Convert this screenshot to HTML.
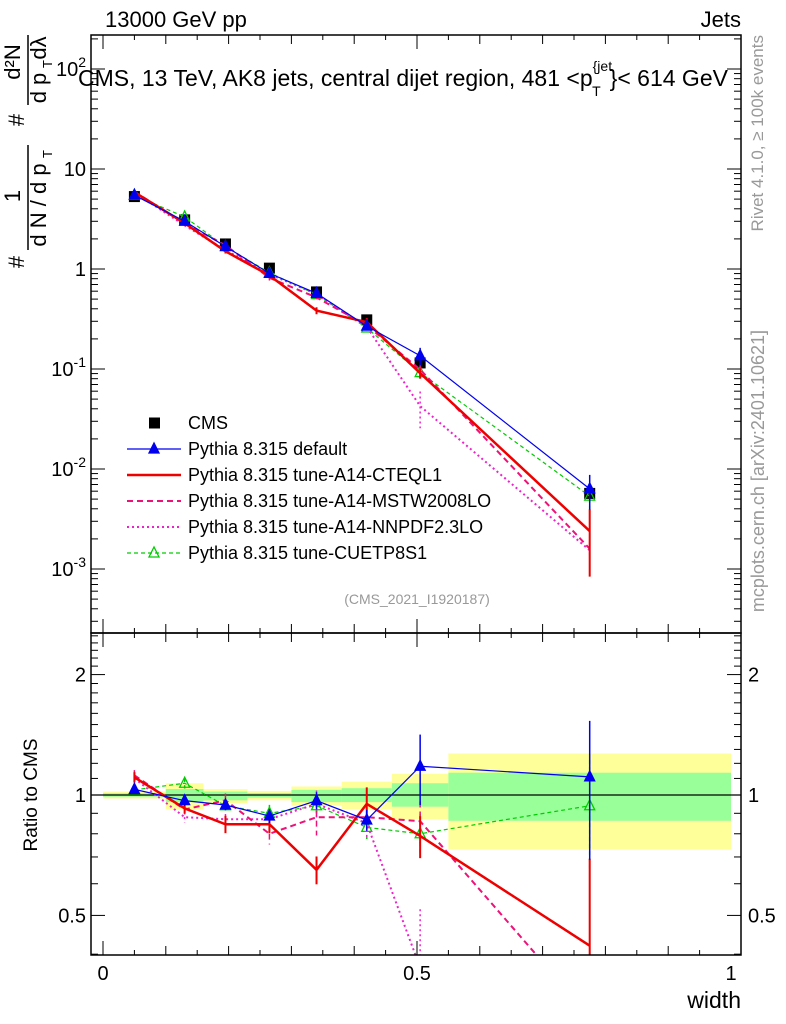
<!DOCTYPE html>
<html><head><meta charset="utf-8"><style>
html,body{margin:0;padding:0;background:#fff;width:786px;height:1024px;overflow:hidden}
svg{display:block;font-family:"Liberation Sans",sans-serif}
</style></head><body>
<svg id="c" width="786" height="1024" viewBox="0 0 786 1024">
<defs>
<clipPath id="cm"><rect x="91" y="35" width="650" height="598"/></clipPath>
<clipPath id="cr"><rect x="91" y="633" width="650" height="322"/></clipPath>
</defs>
</svg>
<script>
// ---- data ----
const binEdges=[0,0.1,0.16,0.23,0.3,0.38,0.46,0.55,1.0];
const xCenters=[0.05,0.13,0.195,0.265,0.34,0.42,0.505,0.775];
const cmsValues=[5.3,3.1,1.78,1.02,0.59,0.31,0.115,0.0057];
const bandYellowHi=[1.02,1.07,1.035,1.024,1.05,1.08,1.13,1.27];
const bandYellowLo=[0.98,0.92,0.955,0.97,0.94,0.92,0.87,0.73];
const bandGreenHi=[1.01,1.035,1.02,1.012,1.03,1.04,1.07,1.137];
const bandGreenLo=[0.99,0.96,0.97,0.985,0.96,0.96,0.935,0.862];
const ratioDefault=[1.033,0.968,0.944,0.886,0.968,0.866,1.18,1.11];
const errDefault=[0.02,0.03,0.03,0.04,0.05,0.06,0.2,0.38];
const ratioCTEQ=[1.107,0.926,0.845,0.845,0.65,0.95,0.79,0.42];
const errCTEQ=[0.03,0.03,0.05,0.05,0.08,0.1,0.12,0.65];
const ratioMSTW=[1.12,0.92,0.97,0.8,0.88,0.88,0.86,0.28];
const errMSTW=[0.03,0.03,0.04,0.06,0.1,0.08,0.12,0.2];
const ratioNNPDF=[1.1,0.88,0.87,0.87,0.95,0.85,0.37,0.27];
const errNNPDF=[0.03,0.03,0.03,0.04,0.08,0.08,0.4,0.2];
const ratioCUETP=[1.03,1.07,0.94,0.9,0.94,0.83,0.8,0.94];
const errCUETP=[0.02,0.03,0.04,0.05,0.06,0.08,0.12,0.3];
const mainTickLabels=["10^2","10","1","10^-1","10^-2","10^-3"];
const mainTickValues=[100,10,1,0.1,0.01,0.001];
const ratioTickValues=[2,1,0.5];
const xTickValues=[0,0.5,1];

// ---- axes ----
const X=v=>103+628*v;
const YM=v=>269-100*Math.log10(v);
const YR=r=>795-400*Math.log10(r);
const clampM=y=>Math.max(35,Math.min(633,y));
const clampR=y=>Math.max(633,Math.min(955,y));
const NS="http://www.w3.org/2000/svg";
const svg=document.getElementById('c');
function mk(tag,attrs,parent){const e=document.createElementNS(NS,tag);for(const k in attrs)e.setAttribute(k,attrs[k]);(parent||svg).appendChild(e);return e;}
function txt(s,attrs,parent){const e=mk('text',attrs,parent);e.textContent=s;return e;}

const gBand=mk('g',{'clip-path':'url(#cr)'});


for(let i=0;i<xCenters.length;i++){
  const x0=X(binEdges[i]),x1=X(binEdges[i+1]);
  const r1=mk('rect',{x:x0,y:YR(bandYellowHi[i]),width:x1-x0,height:YR(bandYellowLo[i])-YR(bandYellowHi[i]),fill:'#ffff99'},gBand);
  
  
  const r2=mk('rect',{x:x0,y:YR(bandGreenHi[i]),width:x1-x0,height:YR(bandGreenLo[i])-YR(bandGreenHi[i]),fill:'#99ff99'},gBand);
  
  
}
const one=mk('line',{x1:91,x2:741,y1:YR(1),y2:YR(1),stroke:'#000','stroke-width':1.2});



const series=[
 {name:'default',ratio:ratioDefault,err:errDefault,color:'#0000ee',w:1.2,dash:'',marker:'tri-fill'},
 {name:'cteql1',ratio:ratioCTEQ,err:errCTEQ,color:'#ee0000',w:2.5,dash:'',marker:'none'},
 {name:'mstw2008lo',ratio:ratioMSTW,err:errMSTW,color:'#ee1177',w:2,dash:'6,4',marker:'none'},
 {name:'nnpdf23lo',ratio:ratioNNPDF,err:errNNPDF,color:'#ee22cc',w:2,dash:'2,3',marker:'none'},
 {name:'cuetp8s1',ratio:ratioCUETP,err:errCUETP,color:'#00cc00',w:1.2,dash:'4,3',marker:'tri-open'}
];
function tri(cx,cy,s,open,parent){
  return mk('polygon',{points:`${cx},${cy-6} ${cx-5},${cy+4} ${cx+5},${cy+4}`,fill:open?'none':s.color,stroke:s.color,'stroke-width':1.3},parent);
}
function drawSeries(s,ratioPanel){
  const g=mk('g',{'clip-path':ratioPanel?'url(#cr)':'url(#cm)'});
  
  
  const val=i=>ratioPanel?s.ratio[i]:s.ratio[i]*cmsValues[i];
  const Y=ratioPanel?YR:YM;
  const C=ratioPanel?clampR:clampM;
  const pts=xCenters.map((x,i)=>X(x)+','+Y(val(i))).join(' ');
  const pl=mk('polyline',{points:pts,fill:'none',stroke:s.color,'stroke-width':s.w,'stroke-dasharray':s.dash},g);
  
  
  for(let i=0;i<xCenters.length;i++){
    const v=val(i),e=v*s.err[i];
    const eb=mk('line',{x1:X(xCenters[i]),x2:X(xCenters[i]),y1:C(Y(v+e)),y2:C(Y(Math.max(v-e,1e-6))),stroke:s.color,'stroke-width':s.w>2?2:1.5,'stroke-dasharray':s.dash},g);
    
    
    if(s.marker!=='none'){
      const m=tri(X(xCenters[i]),Y(v),s,s.marker==='tri-open',g);
      
      
    }
  }
}
[series[4],series[3],series[2],series[1],series[0]].forEach(s=>{drawSeries(s,true);});
const gC=mk('g',{'clip-path':'url(#cm)'});


for(let i=0;i<xCenters.length;i++){
  const r=mk('rect',{x:X(xCenters[i])-5.5,y:YM(cmsValues[i])-5.5,width:11,height:11,fill:'#000'},gC);
  
  
}
[series[4],series[3],series[2],series[1],series[0]].forEach(s=>{drawSeries(s,false);});

const f1=mk('rect',{x:91,y:35,width:650,height:598,fill:'none',stroke:'#000','stroke-width':1.5});


const f2=mk('rect',{x:91,y:633,width:650,height:322,fill:'none',stroke:'#000','stroke-width':1.5});



const gT=mk('g',{stroke:'#000','stroke-width':1});


for(let k=-1;k<=19;k++){
  const v=k*0.05;const x=X(v);if(x<91||x>741)continue;
  const L=(k%10===0)?14:(k%2===0?9:5);
  mk('line',{x1:x,x2:x,y1:955,y2:955-L},gT);mk('line',{x1:x,x2:x,y1:633,y2:633+L},gT);
  mk('line',{x1:x,x2:x,y1:633,y2:633-L},gT);mk('line',{x1:x,x2:x,y1:35,y2:35+L},gT);
}
xTickValues.forEach(v=>{const t=txt(String(v),{x:X(v),y:980,'font-size':20,'text-anchor':'middle'});
 
 });
const xt=txt('width',{x:741,y:1008,'font-size':23,'text-anchor':'end'});



for(let d=-4;d<=2;d++){for(let m=1;m<=9;m++){
  const v=m*Math.pow(10,d);const y=YM(v);if(y<35||y>633)continue;
  const L=m===1?14:7;
  mk('line',{x1:91,x2:91+L,y1:y,y2:y},gT);mk('line',{x1:741,x2:741-L,y1:y,y2:y},gT);
}}
mainTickValues.forEach((v,i)=>{
  const s=mainTickLabels[i];const y=YM(v)+7;
  const t=txt('',{x:86,y:y,'font-size':20,'text-anchor':'end'});
  
  
  if(s.includes('^')){const [b,e]=s.split('^');
    const ts1=mk('tspan',{},t);ts1.textContent=b;
    const ts2=mk('tspan',{dy:-9,'font-size':14},t);ts2.textContent=e;}
  else t.textContent=s;
});
for(let r=0.4;r<=2.55;r+=0.1){const y=YR(r);if(y<633||y>955)continue;
  const major=Math.abs(r-0.5)<1e-6||Math.abs(r-1)<1e-6||Math.abs(r-2)<1e-6;
  const L=major?14:7;
  mk('line',{x1:91,x2:91+L,y1:y,y2:y},gT);mk('line',{x1:741,x2:741-L,y1:y,y2:y},gT);}
ratioTickValues.forEach(v=>{
  const a=txt(String(v),{x:86,y:YR(v)+7,'font-size':20,'text-anchor':'end'});
  
  
  const b=txt(String(v),{x:748,y:YR(v)+7,'font-size':20});
  
  
});
const rt=txt('Ratio to CMS',{x:0,y:0,'font-size':19,'text-anchor':'middle',transform:'translate(37,795) rotate(-90)'});



const gy=mk('g',{'font-size':22});


txt('#',{x:0,y:0,'text-anchor':'middle',transform:'translate(24,262) rotate(-90)'},gy);
txt('1',{x:0,y:0,'text-anchor':'middle',transform:'translate(20,196) rotate(-90)'},gy);
mk('line',{x1:28,x2:28,y1:145,y2:250,stroke:'#000','stroke-width':1.5},gy);
txt('d N / d p',{x:0,y:0,'text-anchor':'middle',transform:'translate(46,205) rotate(-90)'},gy);
txt('T',{x:0,y:0,'font-size':13,transform:'translate(52,158) rotate(-90)'},gy);
txt('#',{x:0,y:0,'text-anchor':'middle',transform:'translate(24,120) rotate(-90)'},gy);
txt('d²N',{x:0,y:0,'text-anchor':'middle',transform:'translate(20,62) rotate(-90)'},gy);
mk('line',{x1:28,x2:28,y1:35,y2:105,stroke:'#000','stroke-width':1.5},gy);
txt('d p',{x:0,y:0,'text-anchor':'middle',transform:'translate(46,88) rotate(-90)'},gy);
txt('T',{x:0,y:0,'font-size':13,transform:'translate(52,68) rotate(-90)'},gy);
txt('dλ',{x:0,y:0,'text-anchor':'middle',transform:'translate(46,48) rotate(-90)'},gy);

const h1=txt('13000 GeV pp',{x:105,y:27,'font-size':22});


const h2=txt('Jets',{x:741,y:27,'font-size':22,'text-anchor':'end'});


const ti=txt('',{x:78,y:86,'font-size':23});


ti.innerHTML='CMS, 13 TeV, AK8 jets, central dijet region, 481 &lt;p<tspan dy="-15" font-size="14">{jet</tspan><tspan dy="25" dx="-20" font-size="14">T</tspan><tspan dy="-10" dx="9">}&lt; 614 GeV</tspan>';
const ref=txt('(CMS_2021_I1920187)',{x:417,y:604,'font-size':14,fill:'#999','text-anchor':'middle'});


const rv=txt('Rivet 4.1.0, ≥ 100k events',{x:0,y:0,'font-size':17,fill:'#999','text-anchor':'end',transform:'translate(763,35) rotate(-90)'});


const mc=txt('mcplots.cern.ch [arXiv:2401.10621]',{x:0,y:0,'font-size':18,fill:'#999','text-anchor':'end',transform:'translate(764,330) rotate(-90)'});



const legNames=['CMS','Pythia 8.315 default','Pythia 8.315 tune-A14-CTEQL1','Pythia 8.315 tune-A14-MSTW2008LO','Pythia 8.315 tune-A14-NNPDF2.3LO','Pythia 8.315 tune-CUETP8S1'];
const gl=mk('g',{});


legNames.forEach((n,i)=>{
  const y=423+i*26;
  const e=mk('g',{},gl);
  
  
  if(i===0){mk('rect',{x:149,y:y-5.5,width:11,height:11,fill:'#000'},e);}
  else{const s=series[i-1];
    mk('line',{x1:127,x2:181,y1:y,y2:y,stroke:s.color,'stroke-width':s.w,'stroke-dasharray':s.dash},e);
    if(s.marker!=='none')tri(154,y,s,s.marker==='tri-open',e);}
  txt(n,{x:188,y:y+6,'font-size':18},e);
});
</script>
</body></html>
